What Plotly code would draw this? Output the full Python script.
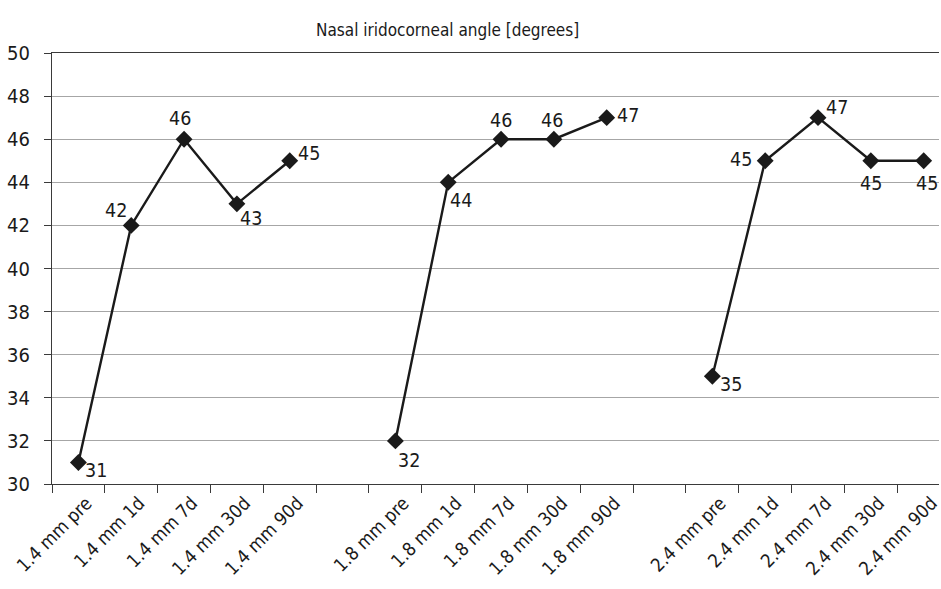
import plotly.graph_objects as go

# Category labels for the three incision groups
labels_14 = ["1.4 mm pre", "1.4 mm 1d", "1.4 mm 7d", "1.4 mm 30d", "1.4 mm 90d"]
labels_18 = ["1.8 mm pre", "1.8 mm 1d", "1.8 mm 7d", "1.8 mm 30d", "1.8 mm 90d"]
labels_24 = ["2.4 mm pre", "2.4 mm 1d", "2.4 mm 7d", "2.4 mm 30d", "2.4 mm 90d"]

# Nasal iridocorneal angle [degrees]
angle_14 = [31, 42, 46, 43, 45]
angle_18 = [32, 44, 46, 46, 47]
angle_24 = [35, 45, 47, 45, 45]

# Blank spacer categories between the groups
spacer_a = " "
spacer_b = "  "
category_order = labels_14 + [spacer_a] + labels_18 + [spacer_b] + labels_24

# Pixel offsets of each value label from its marker (dx right, dy down)
label_offsets = [
    [(18, 8), (-15, -15), (-4, -21), (14, 15), (19, -7)],
    [(14, 20), (13, 18), (0, -19), (-2, -19), (21, -2)],
    [(19, 8), (-24, -1), (19, -10), (0, 23), (3, 23)],
]

FONT = "DejaVu Sans Condensed, sans-serif"
INK = "#1a1a1a"
AXIS = "#3a3a3a"

# Plot-area geometry in pixels
W, H = 941, 589
L, T, B = 52, 53, 105
plot_h = H - T - B
plot_w = W - L

fig = go.Figure()
annotations = []
for labels, values, offsets in zip(
    [labels_14, labels_18, labels_24],
    [angle_14, angle_18, angle_24],
    label_offsets,
):
    fig.add_trace(
        go.Scatter(
            x=labels,
            y=values,
            mode="lines+markers",
            line=dict(color=INK, width=2.4),
            marker=dict(symbol="diamond", size=13, color=INK),
            showlegend=False,
        )
    )
    for lab, val, (dx, dy) in zip(labels, values, offsets):
        annotations.append(
            dict(
                x=lab, y=val, xref="x", yref="y",
                text=f"{val:.0f}", showarrow=False,
                xshift=dx, yshift=-dy,
                xanchor="center", yanchor="middle",
                font=dict(family=FONT, size=19.5, color=INK),
            )
        )

# Chart title above the plot area
annotations.append(
    dict(
        x=(448 - L) / plot_w, y=1 + (T - 30) / plot_h,
        xref="paper", yref="paper",
        text="Nasal iridocorneal angle [degrees]", showarrow=False,
        xanchor="center", yanchor="middle",
        font=dict(family=FONT, size=17, color=INK),
    )
)

fig.update_layout(
    width=W,
    height=H,
    margin=dict(l=L, r=0, t=T, b=B),
    paper_bgcolor="white",
    plot_bgcolor="white",
    font=dict(family=FONT, size=19, color=INK),
    annotations=annotations,
    xaxis=dict(
        type="category",
        categoryorder="array",
        categoryarray=category_order,
        range=[-0.5, 16.29],
        tickson="boundaries",
        ticks="outside",
        ticklen=8,
        tickcolor=AXIS,
        tickwidth=1.3,
        tickangle=-45,
        ticklabelshift=8,
        tickfont=dict(family=FONT, size=18.5, color=INK),
        showline=True,
        linecolor=AXIS,
        linewidth=1.3,
        mirror=True,
        showgrid=False,
        zeroline=False,
        fixedrange=True,
    ),
    yaxis=dict(
        range=[30, 50],
        dtick=2,
        tick0=30,
        ticks="outside",
        ticklen=7,
        tickcolor=AXIS,
        tickwidth=1.3,
        tickfont=dict(family=FONT, size=20, color=INK),
        ticklabelstandoff=10,
        showline=True,
        linecolor=AXIS,
        linewidth=1.3,
        showgrid=True,
        gridcolor="#a6a6a6",
        gridwidth=1.2,
        zeroline=False,
        fixedrange=True,
    ),
)

fig.write_html("out.html")
